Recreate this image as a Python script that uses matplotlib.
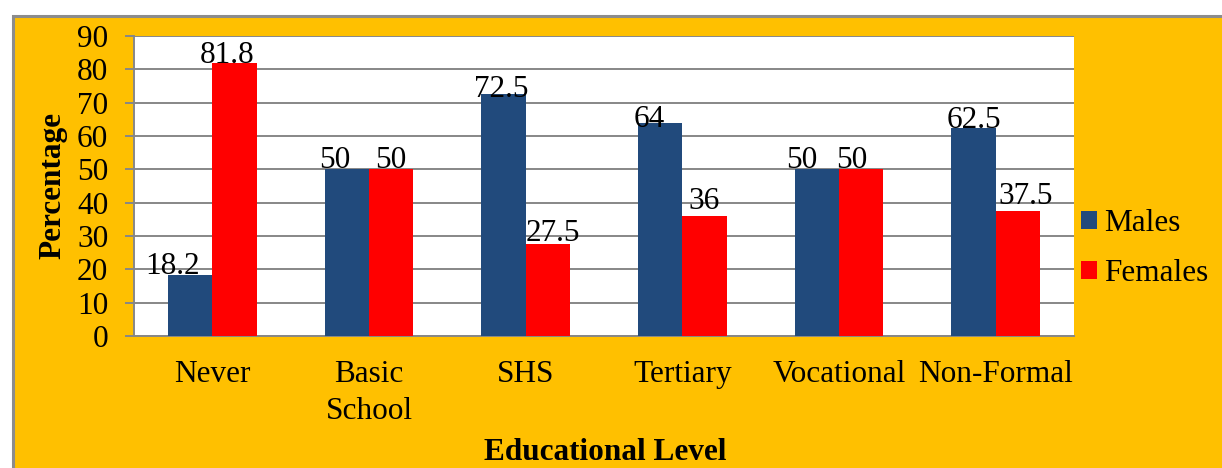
import matplotlib
matplotlib.use("Agg")
import matplotlib.pyplot as plt
from matplotlib.patches import Rectangle, Patch
from matplotlib.transforms import offset_copy
import numpy as np

categories = ["Never", "Basic\nSchool", "SHS", "Tertiary", "Vocational", "Non-Formal"]
males = [18.2, 50, 72.5, 64, 50, 62.5]
females = [81.8, 50, 27.5, 36, 50, 37.5]
yticks = [0, 10, 20, 30, 40, 50, 60, 70, 80, 90]
series_names = ["Males", "Females"]

# label offsets in pixels (dx, dy) to mimic the original placement
male_off = [(-18, 1), (-12, 1), (-2, -3), (-11, -4), (-15, 1), (0, 0)]
female_off = [(-7, 0), (0, 1), (5, 3), (0, 7), (-9, 1), (8, 7)]

plt.rcParams['font.family'] = ['Liberation Serif', 'DejaVu Serif']

W, H = 1222, 468
DPI = 100
fig = plt.figure(figsize=(W / DPI, H / DPI), dpi=DPI, facecolor='white')

ORANGE = '#FFC000'
BLUE = '#214A7C'
RED = '#FF0000'
GRID = '#878787'

# orange panel with gray border
fig.patches.append(Rectangle((12.5 / W, -0.2), 1.5, 1.2 - 15.5 / H,
                             transform=fig.transFigure, facecolor=ORANGE,
                             edgecolor='#8C8C8C', linewidth=2.2, zorder=-5))

ax = fig.add_axes([134 / W, 1 - 336 / H, (1074 - 134) / W, (336 - 36) / H])
ax.set_facecolor('white')

x = np.arange(len(categories))
bw = 0.283
b1 = ax.bar(x - bw / 2, males, bw, color=BLUE, zorder=3, label=series_names[0])
b2 = ax.bar(x + bw / 2, females, bw, color=RED, zorder=3, label=series_names[1])

FS = 22.5
for bars, vals, offs in ((b1, males, male_off), (b2, females, female_off)):
    for rect, v, (dx, dy) in zip(bars, vals, offs):
        tr = offset_copy(ax.transData, fig=fig, x=dx * 72 / DPI, y=dy * 72 / DPI, units='points')
        ax.text(rect.get_x() + rect.get_width() / 2, v, f"{v:g}", transform=tr,
                ha='center', va='baseline', fontsize=FS, zorder=4)

ax.set_xlim(-0.5, len(categories) - 0.5)
ax.set_ylim(0, 90)
ax.set_yticks(yticks)
ax.set_yticklabels([str(t) for t in yticks])
ax.set_xticks(x)
ax.set_xticklabels(categories, linespacing=1.35)
ax.yaxis.grid(True, color=GRID, linewidth=1.4, zorder=0)
ax.set_axisbelow(True)

for s in ('top', 'right'):
    ax.spines[s].set_visible(False)
for s in ('left', 'bottom'):
    ax.spines[s].set_color(GRID)
    ax.spines[s].set_linewidth(1.4)

ax.tick_params(axis='y', length=6.5, width=1.4, color=GRID, pad=12, labelsize=FS)
ax.tick_params(axis='x', length=0, pad=17.5, labelsize=FS)

ax.set_ylabel("Percentage", fontsize=FS, fontweight='bold', labelpad=8)
ax.yaxis.set_label_coords(53 / W, 1 - 186 / H, transform=fig.transFigure)
ax.set_xlabel("Educational Level", fontsize=FS, fontweight='bold')
ax.xaxis.set_label_coords(605 / W, 1 - 452 / H, transform=fig.transFigure)
ax.xaxis.label.set_va('center')
ax.yaxis.label.set_va('center')

handles = [Patch(facecolor=BLUE), Patch(facecolor=RED)]
fig.legend(handles, series_names, loc='upper left',
           bbox_to_anchor=(1081 / W, 1 - 209 / H), frameon=False,
           fontsize=FS, handlelength=0.5, handleheight=0.5, handletextpad=0.25,
           labelspacing=0.68, borderpad=0, borderaxespad=0)

fig.savefig("out.png", dpi=DPI, facecolor=fig.get_facecolor())
